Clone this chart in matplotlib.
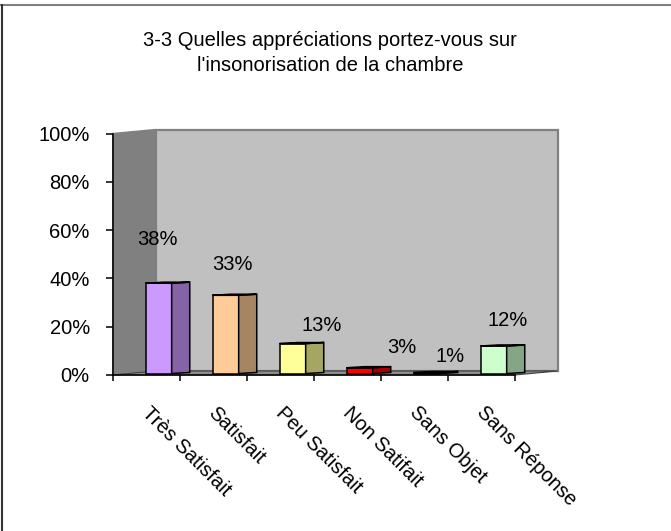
import matplotlib
matplotlib.use('Agg')
import matplotlib.pyplot as plt
from matplotlib.patches import Polygon
from matplotlib.lines import Line2D
from matplotlib.colors import to_rgb

plt.rcParams['font.family'] = ['Liberation Sans', 'DejaVu Sans']

# Données du graphique
categories = ['Très Satisfait', 'Satisfait', 'Peu Satisfait', 'Non Satifait',
              'Sans Objet', 'Sans Réponse']
values = [38, 33, 13, 3, 1, 12]
labels = ['38%', '33%', '13%', '3%', '1%', '12%']
yticks = [0, 20, 40, 60, 80, 100]
title = "3-3 Quelles appréciations portez-vous sur\nl'insonorisation de la chambre"

# Couleurs (face avant)
colors = ['#CC99FF', '#FFCC99', '#FFFF99', '#FF0000', '#222222', '#CCFFCC']

# Mise en page: décalages des étiquettes (pixels) par rapport au haut de la barre
label_off = [(11, 44), (19, 31), (41, 18), (55, 20), (36, 16), (26, 26)]

# Profondeur 3D (en unités de données)
depth_x, depth_y = 0.64, 1.66
bar_x0, bar_x1, bar_x2 = 0.49, 0.88, 1.15
bar_dy = 0.45
base = 0.6


def darker(c, f=0.65):
    r, g, b = to_rgb(c)
    return (r * f, g * f, b * f)


fig = plt.figure(figsize=(6.71, 5.31), dpi=100)
ax = fig.add_axes([112.7 / 671, (531 - 375) / 531, 448.9 / 671, 246.3 / 531])
ax.set_xlim(0, 6.7)
ax.set_ylim(0, 102)
ax.patch.set_visible(False)

# Murs et plancher
n = len(categories)
left_wall = Polygon([(0, 0), (depth_x, depth_y), (depth_x, 100 + depth_y), (0, 100)],
                    closed=True, facecolor='#808080', edgecolor='#808080', lw=1, zorder=1)
back_wall = Polygon([(depth_x, depth_y), (n + depth_x, depth_y),
                     (n + depth_x, 100 + depth_y), (depth_x, 100 + depth_y)],
                    closed=True, facecolor='#C0C0C0', edgecolor='#808080', lw=1.6, zorder=1)
floor = Polygon([(0, 0), (n, 0), (n + depth_x, depth_y), (depth_x, depth_y)],
                closed=True, facecolor='#8c8c8c', edgecolor='#404040', lw=0.8, zorder=1)
for p in (left_wall, back_wall, floor):
    p.set_clip_on(False)
    ax.add_patch(p)

# Barres 3D
for i, (v, c) in enumerate(zip(values, colors)):
    front = Polygon([(i + bar_x0, base), (i + bar_x1, base), (i + bar_x1, v), (i + bar_x0, v)],
                    closed=True, facecolor=c, edgecolor='black', lw=1.1, zorder=3)
    side = Polygon([(i + bar_x1, base), (i + bar_x2, base + bar_dy),
                    (i + bar_x2, v + bar_dy), (i + bar_x1, v)],
                   closed=True, facecolor=darker(c), edgecolor='black', lw=1.1, zorder=3)
    top = Polygon([(i + bar_x0, v), (i + bar_x1, v), (i + bar_x2, v + bar_dy),
                   (i + bar_x0 + (bar_x2 - bar_x1), v + bar_dy)],
                  closed=True, facecolor=darker(c, 0.8), edgecolor='black', lw=1.1, zorder=3)
    for p in (front, side, top):
        p.set_clip_on(False)
        ax.add_patch(p)
    dx, dy = label_off[i]
    ax.annotate(labels[i], xy=(i + 0.5, v), xytext=(dx, dy), textcoords='offset pixels',
                ha='center', va='center', fontsize=14.5, color='black', zorder=4)

# Axes
for s in ['top', 'right']:
    ax.spines[s].set_visible(False)
ax.spines['left'].set_bounds(0, 100)
ax.spines['bottom'].set_bounds(0, n)
for s in ['left', 'bottom']:
    ax.spines[s].set_linewidth(1.1)
    ax.spines[s].set_zorder(5)

ax.set_yticks(yticks)
ax.set_yticklabels([f'{t}%' for t in yticks], fontsize=14.5)
ax.tick_params(axis='y', direction='out', length=5, width=1.1, pad=11.5)
ax.set_xticks(range(n + 1))
ax.set_xticklabels([])
ax.tick_params(axis='x', direction='out', length=4.3, width=1.1)

for i, cat in enumerate(categories):
    ax.annotate(cat, xy=(i + 0.5, 0), xytext=(5, -28), textcoords='offset pixels',
                rotation=-45, rotation_mode='anchor', ha='left', va='top',
                fontsize=14.5, annotation_clip=False)

# Titre
fig.text(330 / 671, 1 - 53 / 531, title, ha='center', va='center',
         fontsize=14.5, linespacing=1.34)

# Cadre
fig.add_artist(Line2D([0, 1], [1 - 5 / 531, 1 - 5 / 531], color='#7f7f7f', lw=1.5))
fig.add_artist(Line2D([1.5 / 671, 1.5 / 671], [0, 1 - 5 / 531], color='#333333', lw=1.5))

fig.savefig('out.png', dpi=100, facecolor='white')
